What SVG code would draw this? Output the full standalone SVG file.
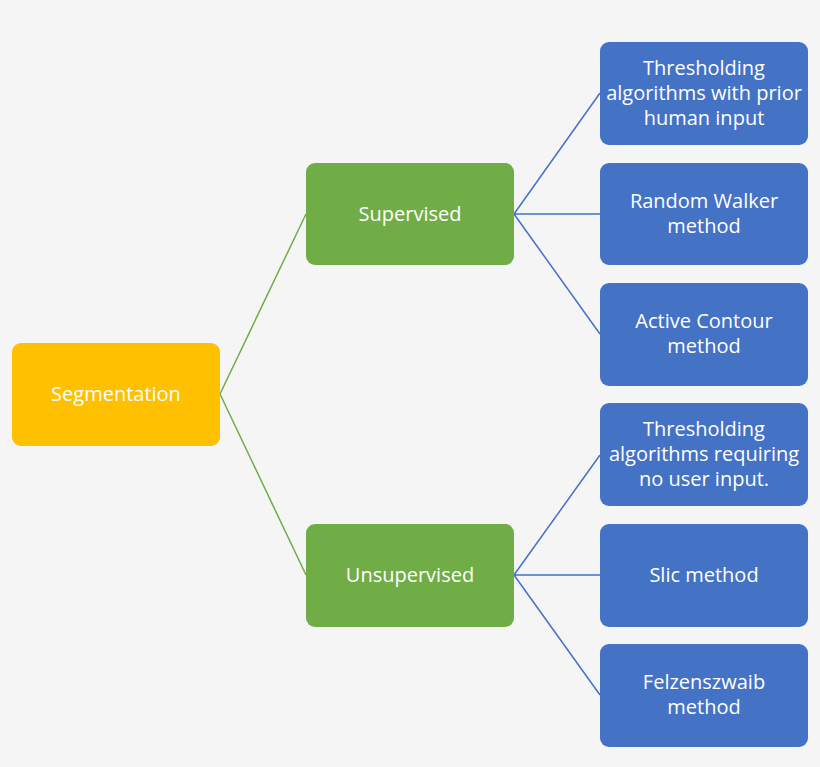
<svg xmlns="http://www.w3.org/2000/svg" width="820" height="767" viewBox="0 0 820 767">
<style>
.bg{fill:#f5f5f5}
.box{stroke:none}
.gold{fill:#ffc000}
.green{fill:#70ad47}
.blue{fill:#4472c4}
.t{font-family:"Open Sans","Liberation Sans",sans-serif;font-size:20px;fill:#ffffff;text-anchor:middle}
.cg{stroke:#70ad47;stroke-width:1.5;fill:none}
.cb{stroke:#4472c4;stroke-width:1.5;fill:none}
</style>
<rect class="bg" x="0" y="0" width="820" height="767"/>
<g id="connectors">
<path class="cg" d="M220,394 L306,214 M220,394 L306,575"/>
<path class="cb" d="M514,214 L600,93 M514,214 L600,214 M514,214 L600,334"/>
<path class="cb" d="M514,575 L600,455 M514,575 L600,575 M514,575 L600,695"/>
</g>
<g id="segmentation"><rect class="box gold" x="12" y="343" width="208" height="103" rx="9"/><text class="t" x="116" y="401">Segmentation</text></g>
<g id="supervised"><rect class="box green" x="306" y="163" width="208" height="102" rx="9"/><text class="t" x="410" y="221">Supervised</text></g>
<g id="unsupervised"><rect class="box green" x="306" y="524" width="208" height="103" rx="9"/><text class="t" x="410" y="582">Unsupervised</text></g>
<g id="thresh1"><rect class="box blue" x="600" y="42" width="208" height="103" rx="9"/><text class="t" x="704" y="75">Thresholding</text><text class="t" x="704" y="100">algorithms with prior</text><text class="t" x="704" y="125">human input</text></g>
<g id="randomwalker"><rect class="box blue" x="600" y="163" width="208" height="102" rx="9"/><text class="t" x="704" y="208">Random Walker</text><text class="t" x="704" y="233">method</text></g>
<g id="activecontour"><rect class="box blue" x="600" y="283" width="208" height="103" rx="9"/><text class="t" x="704" y="328">Active Contour</text><text class="t" x="704" y="353">method</text></g>
<g id="thresh2"><rect class="box blue" x="600" y="403" width="208" height="103" rx="9"/><text class="t" x="704" y="436">Thresholding</text><text class="t" x="704" y="461">algorithms requiring</text><text class="t" x="704" y="486">no user input.</text></g>
<g id="slic"><rect class="box blue" x="600" y="524" width="208" height="103" rx="9"/><text class="t" x="704" y="582">Slic method</text></g>
<g id="felzenszwaib"><rect class="box blue" x="600" y="644" width="208" height="103" rx="9"/><text class="t" x="704" y="689">Felzenszwaib</text><text class="t" x="704" y="714">method</text></g>
</svg>
